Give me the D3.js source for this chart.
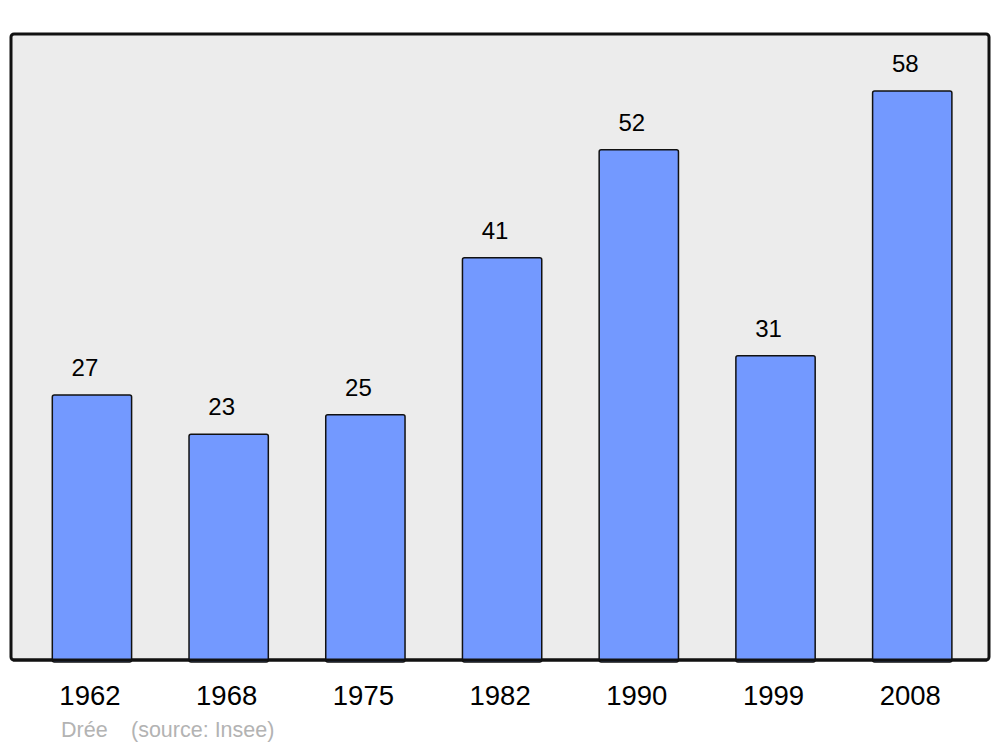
<!DOCTYPE html>
<html><head><meta charset="utf-8">
<script src="https://cdn.jsdelivr.net/npm/d3@7"></script>
<style>body{margin:0;background:#fff}svg{display:block}text{font-family:"Liberation Sans",Arial,sans-serif}</style>
</head><body>
<script>
const years = ["1962","1968","1975","1982","1990","1999","2008"];
const values = [27,23,25,41,52,31,58];
const footerName = "Drée";
const footerSource = "(source: Insee)";

const W = 1000, H = 747;
const panel = {x0: 11, x1: 989, y0: 34, y1: 660};
const svg = d3.select("body").append("svg").attr("width", W).attr("height", H);

svg.append("rect").attr("x", panel.x0).attr("y", panel.y0)
  .attr("width", panel.x1 - panel.x0).attr("height", panel.y1 - panel.y0)
  .attr("rx", 3).attr("fill", "#ececec").attr("stroke", "#111").attr("stroke-width", 3);

const x = d3.scaleBand().domain(years).range([23.6, 980.6]).paddingInner(0.42).paddingOuter(0.21);
const y = d3.scaleLinear().domain([0, 58 * 1.1]).range([panel.y1, panel.y0]);

const data = years.map((yr, i) => ({yr, v: values[i]}));

svg.selectAll("rect.bar").data(data).join("rect").attr("class", "bar")
  .attr("x", d => x(d.yr)).attr("y", d => y(d.v))
  .attr("width", x.bandwidth()).attr("height", d => y(0) - y(d.v) + 2)
  .attr("rx", 2).attr("fill", "#7399ff").attr("stroke", "#111").attr("stroke-width", 1.5);

svg.append("line").attr("x1", panel.x0 + 2).attr("x2", panel.x1 - 2).attr("y1", panel.y1).attr("y2", panel.y1)
  .attr("stroke", "#111").attr("stroke-width", 3);

svg.selectAll("text.val").data(data).join("text").attr("class", "val")
  .attr("x", d => x(d.yr) + x.bandwidth() / 2 - 7).attr("y", d => y(d.v) - 19)
  .attr("text-anchor", "middle").attr("font-size", 24).attr("fill", "#000")
  .text(d => d.v);

const xAxis = d3.axisBottom(x).tickSize(0).tickPadding(0);
const gx = svg.append("g").attr("transform", `translate(0,${panel.y1})`).call(xAxis);
gx.select(".domain").remove();
gx.selectAll("text").attr("font-size", 27.5).attr("fill", "#000")
  .attr("font-family", "Liberation Sans, Arial, sans-serif")
  .attr("dy", null).attr("y", 45).attr("dx", -2);

svg.append("text").attr("x", 61).attr("y", 737).attr("font-size", 21.5).attr("fill", "#b3b3b3").text(footerName);
svg.append("text").attr("x", 131).attr("y", 737).attr("font-size", 21.5).attr("fill", "#b3b3b3").text(footerSource);
</script>
</body></html>
